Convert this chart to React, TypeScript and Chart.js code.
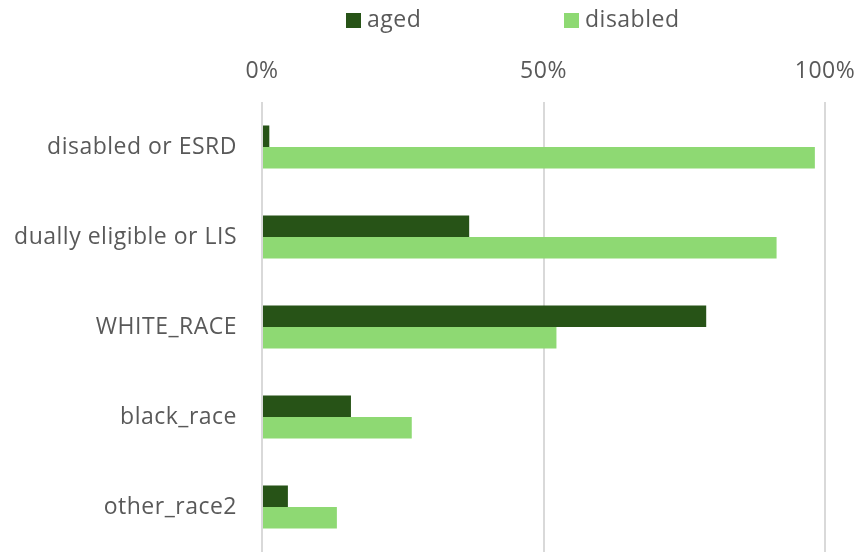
import React, { useEffect, useRef } from "react";
import { Chart, registerables } from "chart.js";

Chart.register(...registerables);

const categories = ["disabled or ESRD", "dually eligible or LIS", "WHITE_RACE", "black_race", "other_race2"];
const agedValues = [1.3, 36.8, 78.9, 15.8, 4.6];
const disabledValues = [98.2, 91.4, 52.3, 26.6, 13.3];
const seriesNames = ["aged", "disabled"];
const seriesColors = ["#275317", "#8ED973"];
const xTicks = [0, 50, 100];

const FONT = "'Open Sans', sans-serif";
const FONT_SIZE = 23;
const TEXT = "#595959";
const SPACING = "0.5px";

const spacingPlugin = {
  id: "letterSpacing",
  beforeUpdate(chart: any) {
    chart.ctx.letterSpacing = SPACING;
  },
  beforeLayout(chart: any) {
    chart.ctx.letterSpacing = SPACING;
  },
  beforeDraw(chart: any) {
    chart.ctx.letterSpacing = SPACING;
  },
};

const legendPlugin = {
  id: "customLegend",
  afterDraw(chart: any) {
    const ctx = chart.ctx;
    ctx.save();
    ctx.letterSpacing = SPACING;
    ctx.font = `${FONT_SIZE}px ${FONT}`;
    ctx.textBaseline = "middle";
    ctx.textAlign = "left";
    const starts = [346, 564];
    seriesNames.forEach((name, i) => {
      const x = starts[i];
      ctx.fillStyle = seriesColors[i];
      ctx.fillRect(x, 13, 15, 15);
      ctx.fillStyle = TEXT;
      ctx.fillText(name, x + 21, 20);
    });
    ctx.restore();
  },
};

export default function App() {
  const ref = useRef<HTMLCanvasElement>(null);
  useEffect(() => {
    document.body.style.margin = "0";
    const chart = new Chart(ref.current!, {
      type: "bar",
      data: {
        labels: categories,
        datasets: [
          { label: seriesNames[0], data: agedValues, backgroundColor: seriesColors[0] },
          { label: seriesNames[1], data: disabledValues, backgroundColor: seriesColors[1] },
        ],
      },
      plugins: [spacingPlugin, legendPlugin],
      options: {
        indexAxis: "y",
        animation: false,
        responsive: false,
        maintainAspectRatio: false,
        layout: { padding: { top: 0, right: 35, bottom: 0, left: 0 } },
        datasets: { bar: { categoryPercentage: 0.478, barPercentage: 1.0 } },
        plugins: { legend: { display: false }, tooltip: { enabled: false } },
        scales: {
          x: {
            position: "top",
            min: 0,
            max: 100,
            afterBuildTicks: (scale: any) => {
              scale.ticks = xTicks.map((v) => ({ value: v }));
            },
            afterFit: (scale: any) => {
              scale.height = 102;
              scale.paddingLeft = 0;
              scale.paddingRight = 0;
            },
            ticks: {
              callback: (v: any) => v + "%",
              color: TEXT,
              font: { family: FONT, size: FONT_SIZE },
              padding: 17,
              maxRotation: 0,
            },
            grid: { color: "#D9D9D9", lineWidth: 2, drawTicks: false },
            border: { display: false },
          },
          y: {
            afterFit: (scale: any) => {
              scale.width = 262;
              scale.paddingTop = 0;
              scale.paddingBottom = 0;
            },
            ticks: {
              color: TEXT,
              font: { family: FONT, size: FONT_SIZE },
              padding: 25,
            },
            grid: { display: false, drawTicks: false },
            border: { display: false },
          },
        },
      },
    });
    return () => chart.destroy();
  }, []);
  return <canvas ref={ref} width={860} height={552} style={{ display: "block" }} />;
}
